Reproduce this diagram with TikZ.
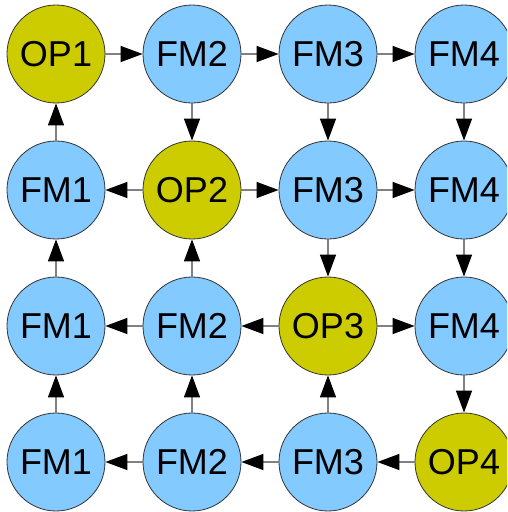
\documentclass[tikz,border=0pt]{standalone}
\usepackage{fontspec}
\setmainfont{Liberation Sans}
\usetikzlibrary{arrows.meta}
\definecolor{fmblue}{HTML}{82CAFF}
\definecolor{opolive}{HTML}{CCCC00}
\begin{document}
\begin{tikzpicture}[x=1pt,y=-1pt,declare function={d=136;},
	  fm/.style={circle,draw=black!80,line width=0.8pt,fill=fmblue,minimum size=98pt,inner sep=0pt,font=\fontsize{36}{42}\selectfont},
	  op/.style={fm,fill=opolive},
	  link/.style={draw=gray,line width=1.4pt,-{Triangle[length=22pt,width=16pt,color=black]}}]
	  \useasboundingbox (0,0) rectangle (507,512);
	  \clip (0,0) rectangle (507,512);
	  \foreach \r/\c/\t/\s in {0/0/OP1/op,0/1/FM2/fm,0/2/FM3/fm,0/3/FM4/fm,
	  1/0/FM1/fm,1/1/OP2/op,1/2/FM3/fm,1/3/FM4/fm,
	  2/0/FM1/fm,2/1/FM2/fm,2/2/OP3/op,2/3/FM4/fm,
	  3/0/FM1/fm,3/1/FM2/fm,3/2/FM3/fm,3/3/OP4/op}{
	      \node[\s] (n\r\c) at ({56+\c*d},{54+\r*d}) {\t};
	  }
	  \foreach \a/\b in {00/01,01/02,02/03,10/00,01/11,02/12,03/13,
	  11/10,11/12,12/13,20/10,21/11,12/22,13/23,
	  21/20,22/21,22/23,30/20,31/21,32/22,23/33,
	  31/30,32/31,33/32}{
	  	\draw[link] (n\a)--(n\b);
	  }
\end{tikzpicture}
\end{document}
